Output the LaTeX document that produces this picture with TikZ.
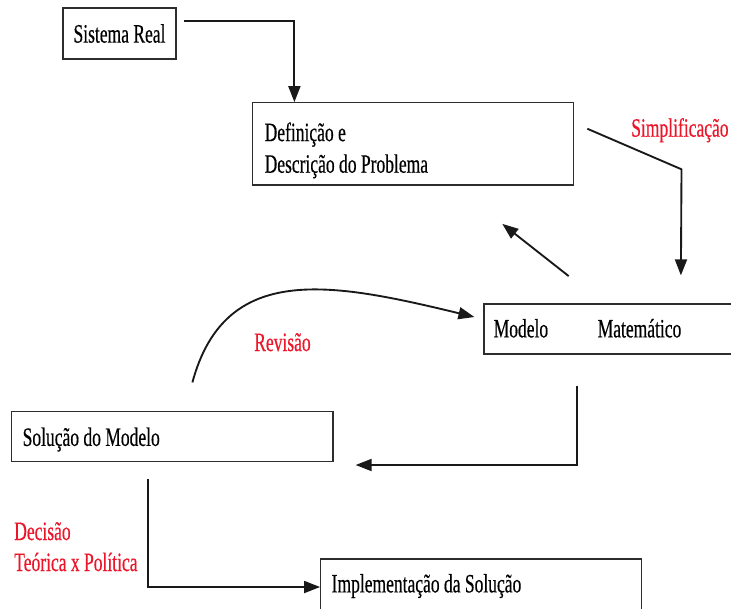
\documentclass[tikz,border=0pt]{standalone}
\usepackage{fontspec}
\setmainfont{Liberation Serif}[FakeStretch=0.66,FakeBold=0.4]
\usetikzlibrary{arrows.meta,calc}
\definecolor{lblred}{RGB}{235,22,42}
\definecolor{boxgray}{RGB}{45,45,45}
\definecolor{linedark}{RGB}{25,25,25}
\begin{document}
\begin{tikzpicture}[x=0.75pt,y=-0.75pt,
  box/.style={draw=boxgray,line width=0.9pt,rectangle,inner sep=0pt,
    font=\fontsize{19.9}{23.7}\selectfont},
  lbl/.style={font=\fontsize{19.9}{23.7}\selectfont,inner sep=0pt,anchor=base west,text=black},
  redlbl/.style={lbl,text=lblred},
  arr/.style={draw=linedark,line width=1.4pt,-{Triangle[length=12pt,width=9pt]}}
]
\useasboundingbox (0,0) rectangle (731,608);
\clip (0,0) rectangle (731,608);

% boxes
\node[box,minimum width=84.75pt,minimum height=38.25pt] (sr) at (119.5,33.5) {Sistema Real};
\node[box,minimum width=240.75pt,minimum height=61.7pt] (def) at (412.8,143.85) {};
\node[box,minimum width=195.75pt,minimum height=37.5pt] (mm) at (614.5,329) {};
\node[box,minimum width=241pt,minimum height=37.5pt] (sol) at (172.35,436.7) {};
\node[box,minimum width=240.75pt,minimum height=39pt] (impl) at (481.2,585) {};

% texts inside boxes
\node[lbl] (deft1) at ($(def.north west)+(12.7,39)$) {Definição e};
\node[lbl] (deft2) at ($(def.north west)+(12.7,70.6)$) {Descrição do Problema};
\node[lbl] (mmt1) at ($(mm.north west)+(10,34)$) {Modelo};
\node[lbl] (mmt2) at ($(mm.north west)+(114,34)$) {Matemático};
\node[lbl] (solt) at ($(sol.north west)+(11.3,34.8)$) {Solução do Modelo};
\node[lbl] (implt) at ($(impl.north west)+(11.3,34)$) {Implementação da Solução};

% red labels
\node[redlbl] (simp) at (631,136.7) {Simplificação};
\node[redlbl] (rev) at (254,351) {Revisão};
\node[redlbl] (dec1) at (14,540) {Decisão};
\node[redlbl] (dec2) at (14,571) {Teórica x Política};

% connectors
\draw[arr] ($(sr.north east)+(7.3,13.7)$) -| ($(def.north west)+(42.7,0)$);
\draw[arr] ($(def.north east)+(13.4,26.6)$) -- (681.5,169.3) -- ($(mm.north west)+(197.5,-28)$);
\draw[arr] ($(mm.north west)+(85.3,-27.3)$) -- ($(def.south east)+(-71.6,38.3)$);
\draw[arr] ($(sol.north west)+(181.3,-28.7)$) .. controls (225,262) and (330,282) .. ($(mm.west)+(-9,-12)$);
\draw[arr] ($(mm.south west)+(93.7,31)$) |- ($(sol.east)+(22,28.3)$);
\draw[arr] ($(sol.south west)+(137.3,16.3)$) |- ($(impl.west)+(0,2)$);
\end{tikzpicture}
\end{document}
